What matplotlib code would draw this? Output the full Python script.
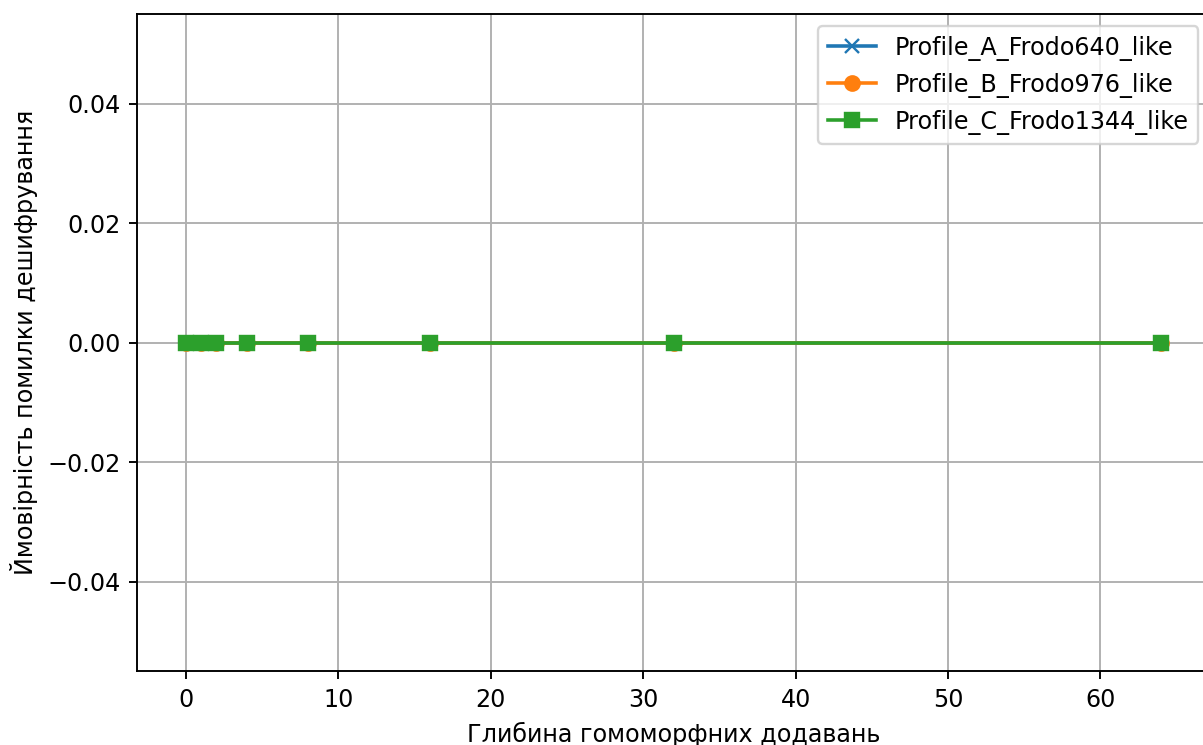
import matplotlib
matplotlib.use("Agg")
import matplotlib.pyplot as plt

depths = [0, 1, 2, 4, 8, 16, 32, 64]
err_a = [0, 0, 0, 0, 0, 0, 0, 0]
err_b = [0, 0, 0, 0, 0, 0, 0, 0]
err_c = [0, 0, 0, 0, 0, 0, 0, 0]

labels = ["Profile_A_Frodo640_like", "Profile_B_Frodo976_like", "Profile_C_Frodo1344_like"]

DPI = 1203 / 7.0
fig = plt.figure(figsize=(7.0, 745 / DPI), dpi=DPI)
# axes run slightly past the right edge of the canvas
ax = fig.add_axes([0.114, 0.099, 0.892, 0.882])

ax.plot(depths, err_a, marker="x", label=labels[0])
ax.plot(depths, err_b, marker="o", label=labels[1])
ax.plot(depths, err_c, marker="s", label=labels[2])

ax.set_xlabel("Глибина гомоморфних додавань")
ax.set_ylabel("Ймовірність помилки дешифрування")
ax.grid(True)
ax.legend(loc="upper right")

fig.savefig("out.png", dpi=DPI)
